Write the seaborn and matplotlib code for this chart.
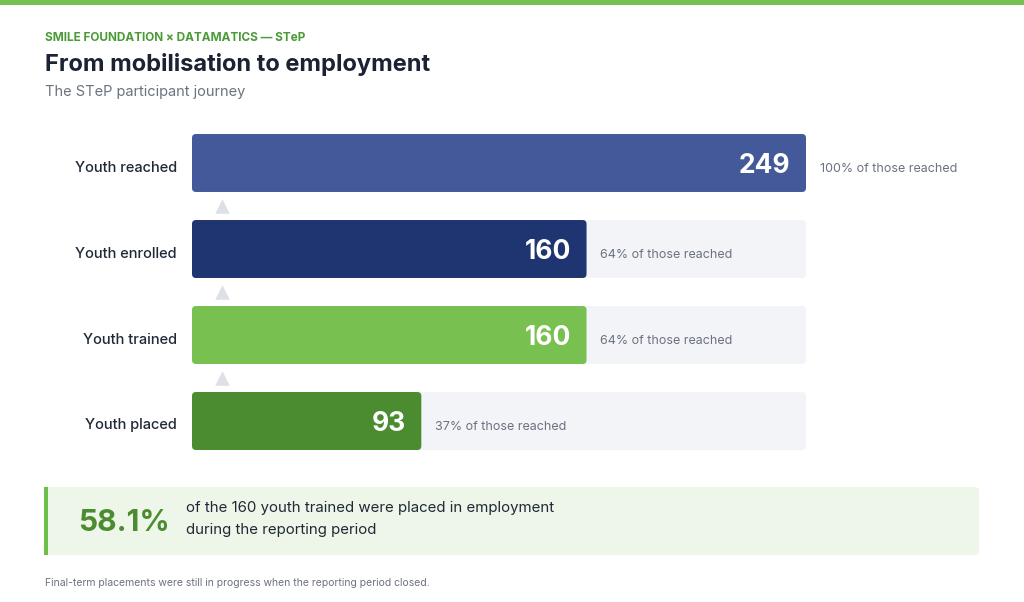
import matplotlib
matplotlib.use("Agg")
import matplotlib.pyplot as plt
import matplotlib.transforms as mtransforms
import seaborn as sns
import pandas as pd
from matplotlib.patches import FancyBboxPatch, Rectangle

# data
stages = ["Youth reached", "Youth enrolled", "Youth trained", "Youth placed"]
counts = [249, 160, 160, 93]
pct_labels = ["100% of those reached", "64% of those reached",
              "64% of those reached", "37% of those reached"]
bar_colors = ["#44599a", "#1f3571", "#78c050", "#4a8c2f"]
headline = "58.1%"
callout_lines = ["of the 160 youth trained were placed in employment",
                 "during the reporting period"]

df = pd.DataFrame({"stage": stages, "count": counts})
df["track"] = max(counts)

sns.set_theme(style="white")
plt.rcParams["font.family"] = ["Inter", "DejaVu Sans"]

fig = plt.figure(figsize=(10.24, 6.02), dpi=100)
fig.patch.set_facecolor("white")

# top green strip
fig.add_artist(Rectangle((0, 1 - 5 / 602), 1, 5 / 602, transform=fig.transFigure,
                         color="#78c050", lw=0))

ax = fig.add_axes([192 / 1024, 138 / 602, 614 / 1024, 344 / 602])

# grey track behind each bar, then the bars themselves
sns.barplot(data=df, y="stage", x="track", color="#f2f4f8", width=0.674,
            orient="h", ax=ax, saturation=1)
sns.barplot(data=df, y="stage", x="count", hue="stage", palette=bar_colors,
            width=0.674, orient="h", ax=ax, legend=False, saturation=1)

ax.set_xlim(0, max(counts))
ax.set_ylim(3.5, -0.5)

# round the corners of all bars
px_x = max(counts) / 614
px_y = 4 / 344
for p in list(ax.patches):
    x0, y0, w, h = p.get_x(), p.get_y(), p.get_width(), p.get_height()
    r = FancyBboxPatch((x0, y0), w, h,
                       boxstyle=f"round,pad=0,rounding_size={4 * px_x}",
                       mutation_aspect=px_y / px_x,
                       facecolor=p.get_facecolor(), edgecolor="none",
                       zorder=p.get_zorder())
    p.remove()
    ax.add_patch(r)

for s in ax.spines.values():
    s.set_visible(False)
ax.set_xlabel("")
ax.set_ylabel("")
ax.set_xticks([])
ax.tick_params(axis="y", length=0, pad=11, labelsize=10.5, labelcolor="#1f2937")
shift = mtransforms.ScaledTranslation(0, -3 / 100, fig.dpi_scale_trans)
for t in ax.get_yticklabels():
    t.set_fontweight("medium")
    t.set_transform(t.get_transform() + shift)

# values inside, percentages outside
for i, (c, lab) in enumerate(zip(counts, pct_labels)):
    ax.annotate(str(c), (c, i), xytext=(-11, -2.5), textcoords="offset points",
                ha="right", va="center", color="white", fontsize=19,
                fontweight="bold")
    ax.annotate(lab, (c, i), xytext=(10, -4), textcoords="offset points",
                ha="left", va="center", color="#6b7280", fontsize=9.0)

# small connector arrows between stages
ax.scatter([30 * px_x] * 3, [0.5, 1.5, 2.5], marker="^", s=110,
           color="#dde0e6", linewidths=0, zorder=3, clip_on=False)

# header
fig.text(45 / 1024, 1 - 38 / 602, "SMILE FOUNDATION × DATAMATICS — STeP",
         color="#4a9a35", fontsize=8.5, fontweight="bold", va="center")
fig.text(45 / 1024, 1 - 64 / 602, "From mobilisation to employment",
         color="#1a2233", fontsize=17, fontweight="bold", va="center")
fig.text(45 / 1024, 1 - 92 / 602, "The STeP participant journey",
         color="#6b7280", fontsize=10.5, va="center")

# callout box
fig.add_artist(FancyBboxPatch((44 / 1024, 1 - 555 / 602), 935 / 1024, 68 / 602,
                              boxstyle="round,pad=0,rounding_size=0.006",
                              transform=fig.transFigure, facecolor="#edf6e8",
                              edgecolor="none"))
fig.add_artist(Rectangle((44 / 1024, 1 - 555 / 602), 4 / 1024, 68 / 602,
                         transform=fig.transFigure, color="#6abf4b", lw=0))
fig.text(78 / 1024, 1 - 523 / 602, headline, color="#4a8c2f", fontsize=21.5,
         fontweight="bold", va="center")
fig.text(186 / 1024, 1 - 508 / 602, callout_lines[0], color="#1f2937",
         fontsize=10.8, va="center")
fig.text(186 / 1024, 1 - 530 / 602, callout_lines[1], color="#1f2937",
         fontsize=10.8, va="center")

fig.text(45 / 1024, 1 - 583 / 602,
         "Final-term placements were still in progress when the reporting period closed.",
         color="#6b7280", fontsize=7.5, va="center")

fig.savefig("out.png", dpi=100)
